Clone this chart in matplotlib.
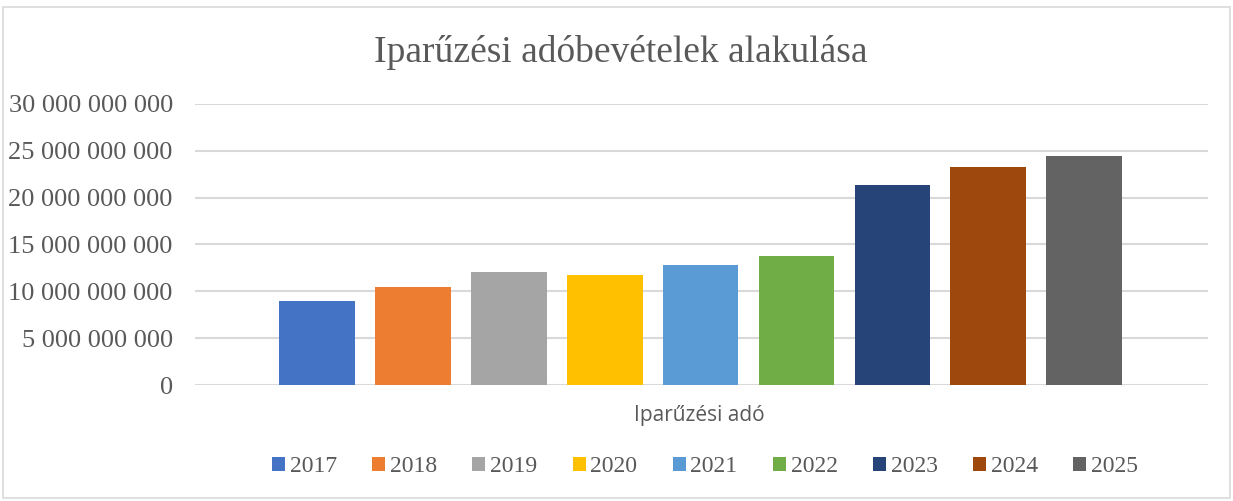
import numpy as np
import matplotlib.pyplot as plt
from matplotlib.ticker import FuncFormatter, MultipleLocator
from matplotlib.patches import Rectangle

# yearly local business tax revenue (HUF)
years = ['2017', '2018', '2019', '2020', '2021', '2022', '2023', '2024', '2025']
revenue = [9.02e9, 10.51e9, 12.11e9, 11.79e9, 12.85e9, 13.81e9, 21.37e9, 23.29e9, 24.46e9]
colors = ['#4472C4', '#ED7D31', '#A5A5A5', '#FFC000', '#5B9BD5',
          '#70AD47', '#264478', '#9E480E', '#636363']

serif = 'Liberation Serif'
txt = '#595959'

fig = plt.figure(figsize=(12.33, 5.01), dpi=100)
ax = fig.add_axes([195 / 1233, 1 - 385 / 501, (1208 - 195) / 1233, (385 - 104) / 501])

x = np.arange(len(years))
bars = ax.bar(x, revenue, width=0.79, color=colors, zorder=2)

ax.set_xlim(-1.27, 9.29)
ax.set_ylim(0, 30e9)
ax.yaxis.set_major_locator(MultipleLocator(5e9))
ax.yaxis.set_major_formatter(FuncFormatter(lambda v, p: f"{v:,.0f}".replace(",", " ")))
ax.grid(axis='y', color='#d9d9d9', linewidth=1.5, zorder=0)
ax.set_xticks([])
for s in ax.spines.values():
    s.set_visible(False)
ax.tick_params(axis='y', length=0, pad=16, labelsize=19, labelcolor=txt)
for lbl in ax.get_yticklabels():
    lbl.set_family(serif)

fig.text(621 / 1233, 1 - 52 / 501, 'Iparűzési adóbevételek alakulása', ha='center', va='center',
         fontsize=27, family=serif, color=txt)
fig.text(699 / 1233, 1 - 415 / 501, 'Iparűzési adó', ha='center', va='center',
         fontsize=15, family='Open Sans', color=txt)

fig.legend(bars, years, loc='center', bbox_to_anchor=(705 / 1233, 1 - 467 / 501), ncol=9,
           frameon=False, handlelength=0.55, handleheight=0.55, handletextpad=0.2,
           columnspacing=1.5, prop={'family': serif, 'size': 17}, labelcolor=txt)

# chart area border
fig.patches.append(Rectangle((3 / 1233, 3 / 501), 1 - 6 / 1233, 1 - 10 / 501,
                             transform=fig.transFigure, fill=False,
                             edgecolor='#d9d9d9', linewidth=1.2))

fig.savefig('out.png', dpi=100)
